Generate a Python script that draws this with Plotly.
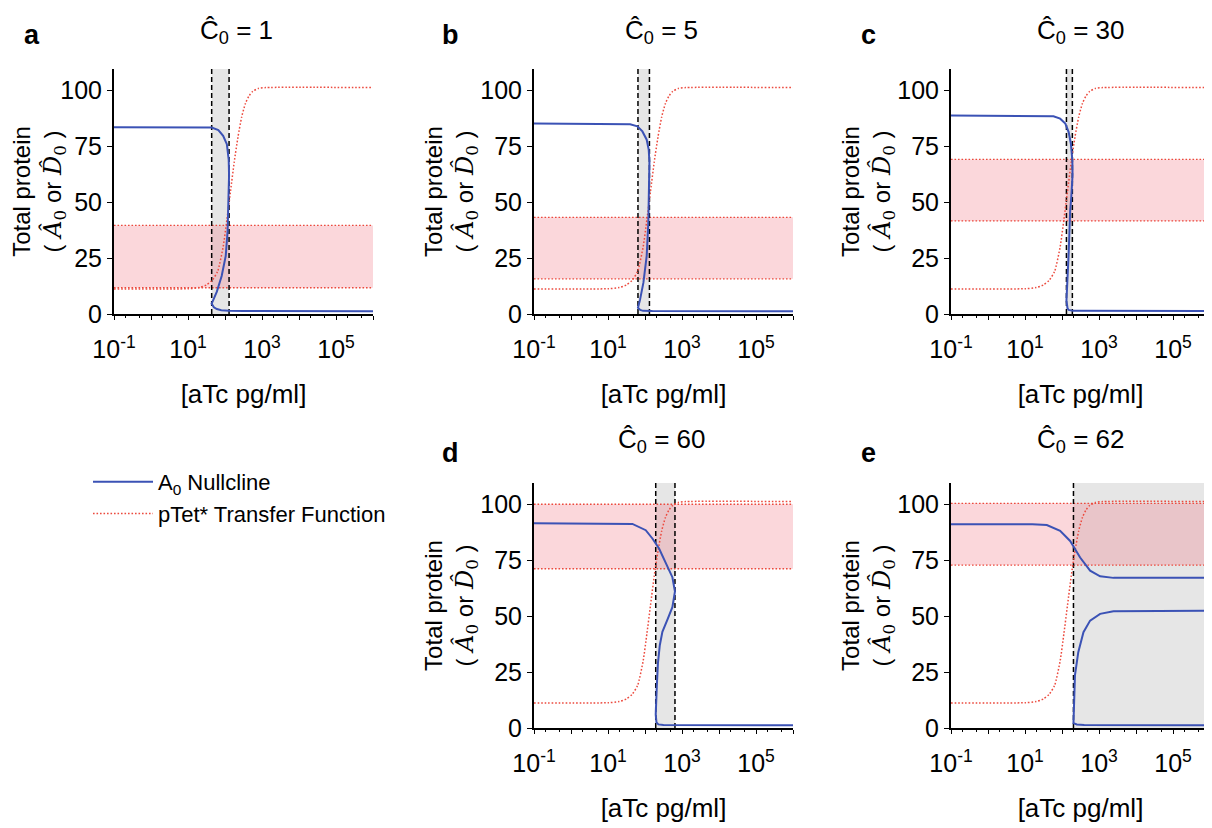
import plotly.graph_objects as go

# ---------------- data (x values are log10 of [aTc pg/ml]) ----------------
PANEL_LETTERS = ["a", "b", "c", "d", "e"]
C0_VALUES = [1, 5, 30, 60, 62]

# pTet* transfer function (same in every panel)
PTET_LOGX = [-1, 1.0, 1.3, 1.5, 1.65, 1.8, 1.95, 2.05, 2.15, 2.25, 2.35, 2.45,
             2.55, 2.65, 2.75, 2.9, 3.1, 6]
PTET_Y = [11.2, 11.3, 11.8, 13.0, 15.0, 19.0, 30.0, 42.0, 55.0, 68.0, 79.0, 88.0,
          94.0, 97.5, 99.5, 100.8, 101.2, 101.2]

# A0 nullclines (upper -> middle -> lower branch; None breaks the line)
NULL_A_LOGX = [-1, 1.2, 1.64, 1.82, 1.95, 2.05, 2.10, 2.11,
               2.10, 2.07, 2.02, 1.91, 1.78, 1.70, 1.64,
               1.70, 1.78, 1.90, 2.10, 2.50, 6]
NULL_A_Y = [83.5, 83.5, 83.3, 82.2, 79.6, 75.9, 69.0, 62.0,
            51.0, 37.0, 26.0, 17.0, 10.0, 6.5, 4.6,
            3.0, 2.2, 1.7, 1.4, 1.3, 1.2]

NULL_B_LOGX = [-1, 1.2, 1.6, 1.795, 1.93, 2.046, 2.10, 2.12,
               2.11, 2.09, 2.046, 1.957, 1.865, 1.81,
               1.87, 1.95, 2.2, 6]
NULL_B_Y = [85.1, 85.1, 84.8, 83.9, 81.6, 77.9, 73.5, 68.0,
            55.0, 41.0, 26.0, 14.0, 6.3, 2.8,
            1.8, 1.4, 1.3, 1.2]

NULL_C_LOGX = [-1, 1.2, 1.77, 1.95, 2.09, 2.18, 2.24, 2.28, 2.285,
               2.25, 2.22, 2.18, 2.14, 2.12,
               2.15, 2.18, 2.30, 6]
NULL_C_Y = [88.7, 88.7, 88.4, 87.3, 85.1, 81.3, 76.1, 68.6, 62.0,
            52.0, 46.0, 27.0, 12.0, 6.0,
            2.5, 1.8, 1.4, 1.3]

NULL_D_LOGX = [-1, 1.2, 1.66, 2.02, 2.20, 2.38, 2.56, 2.74, 2.81,
               2.74, 2.62, 2.47, 2.40, 2.35, 2.32, 2.30, 2.29,
               2.31, 2.36, 2.50, 6]
NULL_D_Y = [91.5, 91.5, 91.2, 88.4, 84.7, 80.2, 73.5, 67.4, 61.0,
            54.0, 49.0, 43.0, 37.0, 29.0, 19.0, 10.0, 6.0,
            2.5, 1.6, 1.3, 1.2]

NULL_E_LOGX = [-1, 1.2, 1.59, 1.95, 2.22, 2.49, 2.76, 3.03, 3.39, 6, None,
               6, 3.39, 3.03, 2.76, 2.58, 2.44, 2.35, 2.31,
               2.31, 2.40, 2.60, 6]
NULL_E_Y = [91.1, 91.1, 90.7, 88.1, 83.6, 76.2, 70.3, 67.8, 67.1, 67.1, None,
            52.4, 52.2, 51.0, 48.0, 42.8, 33.9, 23.5, 7.1,
            2.2, 1.6, 1.3, 1.2]

NULLCLINE_LOGX = [NULL_A_LOGX, NULL_B_LOGX, NULL_C_LOGX, NULL_D_LOGX, NULL_E_LOGX]
NULLCLINE_Y = [NULL_A_Y, NULL_B_Y, NULL_C_Y, NULL_D_Y, NULL_E_Y]

# bistable aTc region (log10 bounds) and pTet* output band
BISTABLE_LOW = [1.64, 1.81, 2.12, 2.29, 2.31]
BISTABLE_HIGH = [2.11, 2.12, 2.28, 2.81, 6.0]
BAND_LOW = [11.7, 15.7, 41.6, 71.2, 72.8]
BAND_HIGH = [39.6, 43.2, 69.1, 100.0, 100.4]

X_TICK_EXP = [-1, 0, 1, 2, 3, 4, 5, 6]
X_TICK_TEXT = ["10<sup>-1</sup>", "", "10<sup>1</sup>", "", "10<sup>3</sup>", "",
               "10<sup>5</sup>", ""]
Y_TICKS = [0, 25, 50, 75, 100]
X_RANGE = [-1, 6]
Y_RANGE = [0, 109.5]

# ---------------- styling / layout ----------------
FONT = "Liberation Sans, Arial, Helvetica, sans-serif"
BLUE = "#3b52b5"
RED = "#ec4a3e"
DOTS = "1.6px,1.9px"
W, H, OFF = 1204, 820, 8   # page body margin of 8px shifts the figure


def px_x(p):
    return (p - OFF) / W


def px_y(p):
    return 1 - (p - OFF) / H


COLS = [(114, 373), (534, 793), (951, 1210), (534, 793), (951, 1210)]
ROWS = [(69, 314), (69, 314), (69, 314), (483, 728), (483, 728)]
X_DOMAINS = [[px_x(a), px_x(b)] for a, b in COLS]
Y_DOMAINS = [[px_y(b), px_y(a)] for a, b in ROWS]


def lin(v):
    return None if v is None else 10 ** v


fig = go.Figure()
layout = {}
for i in range(5):
    n = "" if i == 0 else str(i + 1)
    xa, ya = "x" + n, "y" + n
    xl, xh = BISTABLE_LOW[i], BISTABLE_HIGH[i]
    bl, bh = BAND_LOW[i], BAND_HIGH[i]
    ytop = Y_RANGE[1]
    # grey bistable region
    fig.add_trace(go.Scatter(
        x=[lin(xl), lin(xh), lin(xh), lin(xl), lin(xl)],
        y=[0, 0, ytop, ytop, 0], fill="toself", fillcolor="#e6e6e6",
        line=dict(width=0), mode="lines", hoverinfo="skip",
        showlegend=False, xaxis=xa, yaxis=ya))
    # pink band
    fig.add_trace(go.Scatter(
        x=[lin(X_RANGE[0]), lin(X_RANGE[1]), lin(X_RANGE[1]), lin(X_RANGE[0]), lin(X_RANGE[0])],
        y=[bl, bl, bh, bh, bl], fill="toself", fillcolor="rgba(240,110,125,0.28)",
        line=dict(width=0), mode="lines", hoverinfo="skip",
        showlegend=False, xaxis=xa, yaxis=ya))
    fig.add_trace(go.Scatter(
        x=[lin(X_RANGE[0]), lin(X_RANGE[1]), None, lin(X_RANGE[0]), lin(X_RANGE[1])],
        y=[bl, bl, None, bh, bh], mode="lines",
        line=dict(color=RED, width=1.4, dash=DOTS), hoverinfo="skip",
        showlegend=False, xaxis=xa, yaxis=ya))
    # dashed borders of bistable region
    fig.add_trace(go.Scatter(
        x=[lin(xl), lin(xl), None, lin(xh), lin(xh)],
        y=[0, ytop, None, 0, ytop], mode="lines",
        line=dict(color="black", width=1.5, dash="5px,3px"), hoverinfo="skip",
        showlegend=False, xaxis=xa, yaxis=ya))
    # pTet* transfer function
    fig.add_trace(go.Scatter(
        x=[lin(v) for v in PTET_LOGX], y=PTET_Y, mode="lines",
        line=dict(color=RED, width=1.5, dash=DOTS, shape="spline", smoothing=0.6),
        name="pTet* Transfer Function", showlegend=(i == 0),
        legendrank=2, xaxis=xa, yaxis=ya))
    # A0 nullcline
    fig.add_trace(go.Scatter(
        x=[lin(v) for v in NULLCLINE_LOGX[i]], y=NULLCLINE_Y[i], mode="lines",
        line=dict(color=BLUE, width=2), connectgaps=False,
        name="A<sub>0</sub> Nullcline", showlegend=(i == 0),
        legendrank=1, xaxis=xa, yaxis=ya))

    layout["xaxis" + n] = dict(
        domain=X_DOMAINS[i], anchor=ya, type="log", range=X_RANGE, automargin=False,
        tickvals=[10 ** e for e in X_TICK_EXP], ticktext=X_TICK_TEXT,
        ticks="outside", ticklen=4, tickwidth=1.2, tickcolor="black",
        minor=dict(ticks="outside", ticklen=2, tickcolor="black"),
        showline=True, linecolor="black", linewidth=2, showgrid=False,
        zeroline=False, tickfont=dict(size=25, color="black", family=FONT),
        ticklabelstandoff=8,
        title=dict(text="[aTc pg/ml]", font=dict(size=26, color="black", family=FONT),
                   standoff=23))
    layout["yaxis" + n] = dict(
        domain=Y_DOMAINS[i], anchor=xa, range=Y_RANGE, tickvals=Y_TICKS, automargin=False,
        ticks="outside", ticklen=5, tickwidth=1.2, tickcolor="black",
        showline=True, linecolor="black", linewidth=2, showgrid=False,
        zeroline=False, tickfont=dict(size=25, color="black", family=FONT),
        ticklabelstandoff=0,
        title=dict(text="Total protein<br>( <span style='font-family:DejaVu Serif'>"
                        "<i>Â</i><sub>0</sub></span> or <span style='font-family:DejaVu Serif'>"
                        "<i>D̂</i><sub>0</sub></span> )",
                   font=dict(size=24, color="black", family=FONT), standoff=0))

annotations = []
TITLE_PX = [(236, 31), (661, 31), (1080, 31), (662, 440), (1080, 440)]
LETTER_PX = [(32, 35), (450, 35), (868, 35), (450, 453), (868, 453)]
for i in range(5):
    tx, ty = TITLE_PX[i]
    lx, ly = LETTER_PX[i]
    annotations.append(dict(
        text="Ĉ<sub>0</sub> = %d" % C0_VALUES[i], x=px_x(tx), y=px_y(ty),
        xref="paper", yref="paper", showarrow=False, xanchor="center", yanchor="middle",
        font=dict(size=26, color="black", family=FONT)))
    annotations.append(dict(
        text="<b>%s</b>" % PANEL_LETTERS[i], x=px_x(lx), y=px_y(ly),
        xref="paper", yref="paper", showarrow=False, xanchor="center", yanchor="middle",
        font=dict(size=27, color="black", family=FONT)))

fig.update_layout(
    width=W, height=H, margin=dict(l=0, r=0, t=0, b=0, autoexpand=False),
    paper_bgcolor="white", plot_bgcolor="white",
    font=dict(family=FONT, color="black"),
    annotations=annotations,
    legend=dict(x=px_x(88), y=px_y(461), xanchor="left", yanchor="top",
                bgcolor="rgba(0,0,0,0)", itemwidth=60,
                font=dict(size=22, color="black", family=FONT),
                tracegroupgap=0),
    **layout)

fig.write_html("out.html")
